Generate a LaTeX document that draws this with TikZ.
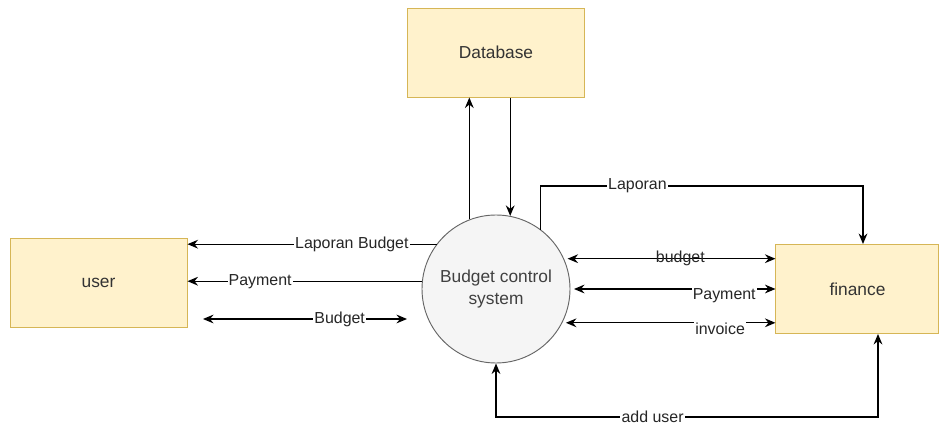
\documentclass[tikz,border=0pt]{standalone}
\usepackage{fontspec}
\setmainfont{Liberation Sans}
\usetikzlibrary{arrows.meta,positioning}
\definecolor{boxfill}{HTML}{FFF2CC}
\definecolor{boxline}{HTML}{D6B656}
\definecolor{procfill}{HTML}{F5F5F5}
\definecolor{procline}{HTML}{666666}

\begin{document}
\begin{tikzpicture}[x=0.03cm,y=-0.03cm,->,>={Stealth[length=9pt,width=7.5pt,inset=3pt]},
                    line width=1.1pt,font=\fontsize{13.6}{16}\selectfont]
  \tikzstyle{entity}=[draw=boxline,fill=boxfill,line width=0.8pt,text=black!80,
                      minimum width=5.31cm,minimum height=2.67cm,
                      font=\fontsize{14.8}{17}\selectfont]
  \tikzstyle{process}=[circle,draw=procline,fill=procfill,line width=0.8pt,
                       text=black!75,align=center,minimum size=4.44cm,
                       font=\fontsize{14.8}{18}\selectfont]
  \tikzstyle{flow}=[fill=white,inner sep=1pt,text=black!85]

  \useasboundingbox (0,0) rectangle (940,427);

  \node[process] (bcs) at (496,289) {Budget control\\system};
  \node[entity]  (db)  [above=3.51cm of bcs] {Database};
  \node[entity]  (user) at (98.5,282.5) {user};
  \node[entity,minimum width=4.89cm] (fin) [right=6.15cm of bcs] {finance};

  % database
  \path (bcs.111) edge (bcs.111 |- db.south)
        (db.south -| bcs.79) edge (bcs.79);

  % finance
  \coordinate (lap) at (863,186);
  \draw (bcs.53) |- node[flow,pos=0.65] {Laporan} (lap) -- (lap |- fin.north);
  \draw[<->,shorten <=3pt] (bcs.24) -- node[text=black!85,pos=0.55] {budget} (bcs.24 -| fin.west);
  \draw[<->,shorten <=3pt] (bcs.east) -- node[flow,pos=0.75,yshift=-6pt] {Payment} (bcs.east -| fin.west);
  \draw[<->,shorten <=3pt] (bcs.-27) -- node[flow,pos=0.74,yshift=-5pt] {invoice} (bcs.-27 -| fin.west);

  % user
  \draw (bcs.143) -- node[flow,pos=0.34] {Laporan Budget} (bcs.143 -| user.east);
  \draw (bcs.174) -- node[flow,pos=0.69] {Payment} (bcs.174 -| user.east);
  \coordinate (bl) at (203,319);
  \coordinate (br) at (407,319);
  \draw[<->] (bl) -- node[flow,pos=0.67] {Budget} (br);

  % add user
  \coordinate (au) at (878,417);
  \draw[<->] (bcs.south) |- node[flow,pos=0.705] {add user} (au) -- (au |- fin.south);
\end{tikzpicture}
\end{document}
